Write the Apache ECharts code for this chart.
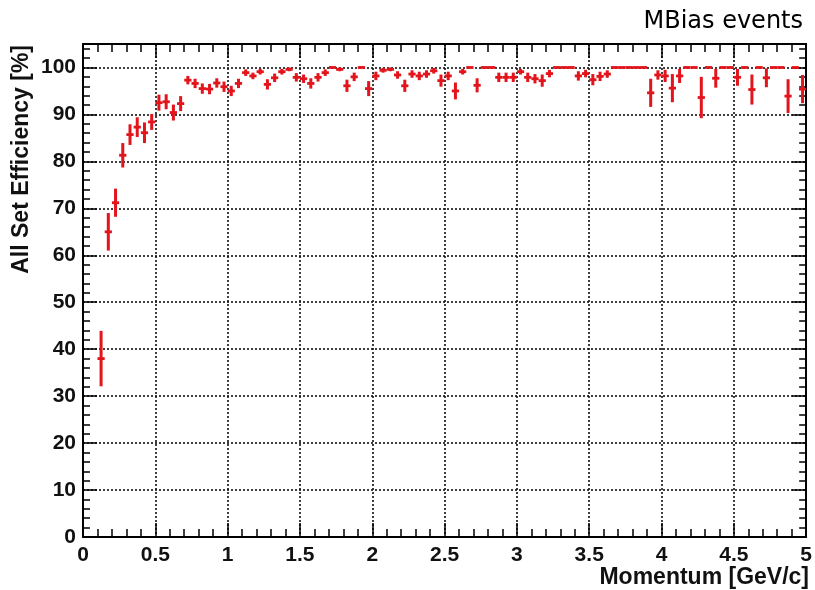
<!DOCTYPE html>
<html>
<head>
<meta charset="utf-8">
<script src="https://cdn.jsdelivr.net/npm/echarts@6/dist/echarts.min.js"></script>
<style>
  html, body { margin: 0; padding: 0; background: #fff; }
  #chart { width: 815px; height: 590px; }
</style>
</head>
<body>
<div id="chart"></div>
<script>
// Bin centres of the momentum histogram [GeV/c]
const momentum = [
  0.125, 0.175, 0.225, 0.275, 0.325, 0.375, 0.425, 0.475, 0.525, 0.575,
  0.625, 0.675, 0.725, 0.775, 0.825, 0.875, 0.925, 0.975, 1.025, 1.075,
  1.125, 1.175, 1.225, 1.275, 1.325, 1.375, 1.425, 1.475, 1.525, 1.575,
  1.625, 1.675, 1.725, 1.775, 1.825, 1.875, 1.925, 1.975, 2.025, 2.075,
  2.125, 2.175, 2.225, 2.275, 2.325, 2.375, 2.425, 2.475, 2.525, 2.575,
  2.625, 2.675, 2.725, 2.775, 2.825, 2.875, 2.925, 2.975, 3.025, 3.075,
  3.125, 3.175, 3.225, 3.275, 3.325, 3.375, 3.425, 3.475, 3.525, 3.575,
  3.625, 3.675, 3.725, 3.775, 3.825, 3.875, 3.925, 3.975, 4.025, 4.075,
  4.125, 4.175, 4.225, 4.275, 4.325, 4.375, 4.425, 4.475, 4.525, 4.575,
  4.625, 4.675, 4.725, 4.775, 4.825, 4.875, 4.925, 4.975
];

// Efficiency per bin [%]
const efficiency = [
  38.0, 65.0, 71.2, 81.3, 85.7, 87.3, 86.1, 88.4, 92.5, 92.7,
  90.4, 92.3, 97.3, 96.6, 95.5, 95.4, 96.7, 95.9, 95.0, 96.6,
  98.9, 98.2, 99.1, 96.4, 97.8, 99.1, 99.6, 97.9, 97.6, 96.6,
  97.9, 98.9, 100, 99.6, 96.1, 98.0, 100, 95.5, 98.2, 99.4,
  99.6, 98.4, 96.1, 98.6, 98.2, 98.6, 99.3, 97.2, 98.2, 95.0,
  99.1, 100, 96.2, 100, 100, 97.9, 97.9, 97.9, 99.1, 97.9,
  97.6, 97.2, 98.7, 100, 100, 100, 98.2, 98.7, 97.4, 98.1,
  98.6, 100, 100, 100, 100, 100, 94.6, 98.4, 98.2, 95.6,
  98.2, 100, 100, 93.6, 100, 97.7, 100, 100, 97.9, 100,
  95.3, 100, 97.8, 100, 100, 93.9, 100, 95.4
];

// Statistical uncertainty per bin [%]
const uncertainty = [
  5.9, 4.0, 3.0, 2.6, 2.2, 2.1, 2.2, 1.7, 1.7, 1.6,
  1.7, 1.6, 0.9, 1.0, 1.1, 1.1, 1.0, 1.1, 1.1, 1.0,
  0.7, 0.7, 0.6, 1.1, 0.9, 0.6, 0.4, 0.9, 0.9, 1.1,
  0.9, 0.7, 0, 0.4, 1.3, 0.9, 0, 1.6, 0.9, 0.5,
  0.4, 0.8, 1.3, 0.8, 0.9, 0.8, 0.6, 1.3, 0.9, 1.8,
  0.6, 0, 1.5, 0, 0, 1.0, 1.0, 1.0, 0.6, 1.0,
  1.0, 1.3, 0.8, 0, 0, 0, 1.0, 0.8, 1.2, 1.0,
  0.8, 0, 0, 0, 0, 0, 3.0, 1.0, 1.3, 3.0,
  1.5, 0, 0, 4.4, 0, 2.0, 0, 0, 1.8, 0,
  3.2, 0, 2.0, 0, 0, 3.6, 0, 3.0
];

const binHalfWidth = 0.025;

const xTicks = { min: 0, max: 5, interval: 0.5 };
const yTicks = { min: 0, max: 105, interval: 10 };

const points = momentum.map((m, i) => [m, efficiency[i], uncertainty[i]]);

const RED = '#e3141b';
const labelFont = { fontFamily: 'Liberation Sans, Arial, sans-serif', fontWeight: 'bold', fontSize: 21, color: '#111' };

function renderErrorCross(params, api) {
  const x = api.value(0), v = api.value(1), e = api.value(2);
  const left = api.coord([x - binHalfWidth, v]);
  const right = api.coord([x + binHalfWidth, v]);
  const children = [{
    type: 'line',
    shape: { x1: left[0], y1: left[1], x2: right[0], y2: right[1] },
    style: { stroke: RED, lineWidth: 2.8 }
  }];
  if (e > 0) {
    const top = api.coord([x, v + e]);
    const bot = api.coord([x, v - e]);
    children.push({
      type: 'line',
      shape: { x1: top[0], y1: top[1], x2: bot[0], y2: bot[1] },
      style: { stroke: RED, lineWidth: 3 }
    });
  }
  return { type: 'group', children };
}

const frameLine = { show: true, onZero: false, lineStyle: { color: '#000', width: 2 } };

const chart = echarts.init(document.getElementById('chart'), null, { renderer: 'canvas' });

chart.setOption({
  animation: false,
  backgroundColor: '#fff',
  grid: { left: 83, right: 6, top: 44, bottom: 53, containLabel: false },
  xAxis: [
    {
      type: 'value', position: 'bottom',
      min: xTicks.min, max: xTicks.max, interval: xTicks.interval,
      axisLine: frameLine,
      axisTick: { show: true, inside: true, length: 14, lineStyle: { color: '#000', width: 1.5 } },
      minorTick: { show: true, splitNumber: 5, length: 8, lineStyle: { color: '#000', width: 1.5 } },
      splitLine: { show: true, lineStyle: { color: '#111', width: 1.6, type: [2, 2] } },
      axisLabel: Object.assign({ margin: 8, formatter: v => String(v) }, labelFont)
    },
    {
      type: 'value', position: 'top',
      min: xTicks.min, max: xTicks.max, interval: xTicks.interval,
      axisLine: frameLine,
      axisTick: { show: true, inside: true, length: 14, lineStyle: { color: '#000', width: 1.5 } },
      minorTick: { show: true, splitNumber: 5, length: 8, lineStyle: { color: '#000', width: 1.5 } },
      splitLine: { show: false },
      axisLabel: { show: false }
    }
  ],
  yAxis: [
    {
      type: 'value', position: 'left',
      min: yTicks.min, max: yTicks.max, interval: yTicks.interval,
      axisLine: frameLine,
      axisTick: { show: true, inside: true, length: 14, lineStyle: { color: '#000', width: 1.5 } },
      minorTick: { show: true, splitNumber: 5, length: 7, lineStyle: { color: '#000', width: 1.5 } },
      splitLine: { show: true, lineStyle: { color: '#111', width: 1.6, type: [2, 2] } },
      axisLabel: Object.assign({ margin: 7, formatter: v => (v % 10 === 0 ? String(v) : '') }, labelFont)
    },
    {
      type: 'value', position: 'right',
      min: yTicks.min, max: yTicks.max, interval: yTicks.interval,
      axisLine: frameLine,
      axisTick: { show: true, inside: true, length: 14, lineStyle: { color: '#000', width: 1.5 } },
      minorTick: { show: true, splitNumber: 5, length: 7, lineStyle: { color: '#000', width: 1.5 } },
      splitLine: { show: false },
      axisLabel: { show: false }
    }
  ],
  series: [{
    type: 'custom',
    xAxisIndex: 0,
    yAxisIndex: 0,
    renderItem: renderErrorCross,
    encode: { x: 0, y: 1 },
    data: points,
    z: 10
  }],
  graphic: [
    {
      type: 'text', x: 803, y: 22,
      style: { text: 'MBias events', font: '24px "DejaVu Sans", Verdana, sans-serif', fill: '#000', textAlign: 'right', textVerticalAlign: 'middle' }
    },
    {
      type: 'text', x: 809, y: 578,
      style: { text: 'Momentum [GeV/c]', font: 'bold 23px "Liberation Sans", Arial, sans-serif', fill: '#111', textAlign: 'right', textVerticalAlign: 'middle' }
    },
    {
      type: 'text', x: 22, y: 45, rotation: Math.PI / 2,
      style: { text: 'All Set Efficiency [%]', font: 'bold 23px "Liberation Sans", Arial, sans-serif', fill: '#111', textAlign: 'right', textVerticalAlign: 'middle' }
    }
  ]
});
</script>
</body>
</html>
